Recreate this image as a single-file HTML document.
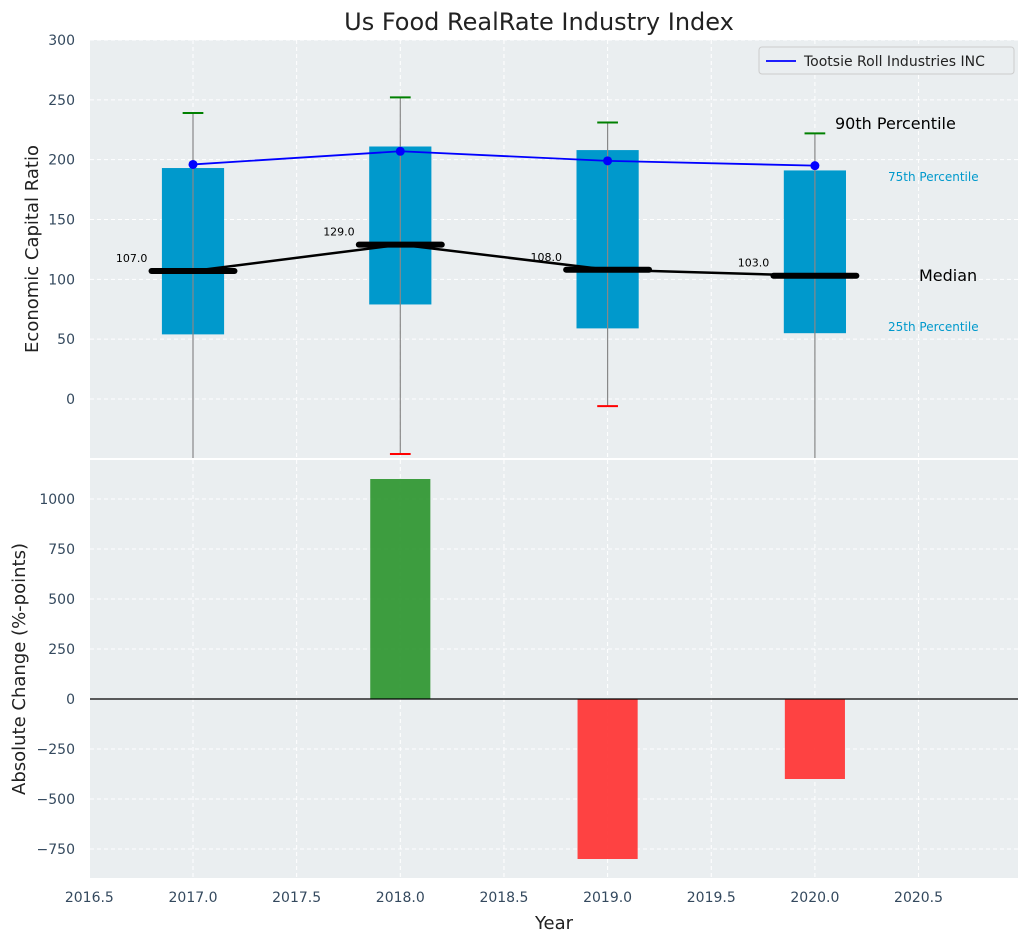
<!DOCTYPE html>
<html><head><meta charset="utf-8"><style>
body{margin:0;background:#fff;font-family:"Liberation Sans","DejaVu Sans",sans-serif;}
svg text{font-family:"DejaVu Sans","Liberation Sans",sans-serif;}
</style></head><body>
<svg id="c" width="1029" height="942" xmlns="http://www.w3.org/2000/svg">
<text x="539" y="30" text-anchor="middle" font-size="24" fill="#222">Us Food RealRate Industry Index</text>
<g id="topPanel"></g>
<g id="botPanel"></g>
</svg>
<script>
const years=[2017,2018,2019,2020];
const q25=[54,79,59,55];
const q75=[193,211,208,191];
const medians=[107,129,108,103];
const p90=[239,252,231,222];
const p10=[-60,-46,-6,-60];
const company=[196,207,199,195];
const changes=[null,1100,-800,-400];
const topTicks=[0,50,100,150,200,250,300];
const botTicks=[-750,-500,-250,0,250,500,750,1000];
const xTicks=[2016.5,2017,2017.5,2018,2018.5,2019,2019.5,2020,2020.5];

const NS='http://www.w3.org/2000/svg';
function mk(p,t,a){const e=document.createElementNS(NS,t);for(const k in a)e.setAttribute(k,a[k]);p.appendChild(e);return e;}
const L=90,R=1018,TC='#34495e';
const X=v=>193+(v-2017)*207.3;
const YT=v=>399-v*1.1967;
const YB=v=>699-v*0.2;
const fmt=v=>String(v).replace('-','\u2212');
const tp=document.getElementById('topPanel'),bot=document.getElementById('botPanel');
let bg=mk(tp,'rect',{x:L,y:40,width:R-L,height:418,fill:'#eaeef0'});


let bg2=mk(bot,'rect',{x:L,y:460,width:R-L,height:418,fill:'#eaeef0'});


xTicks.forEach(t=>{
 mk(tp,'line',{x1:X(t),x2:X(t),y1:40,y2:458,stroke:'#fff','stroke-dasharray':'4,3'});
 mk(bot,'line',{x1:X(t),x2:X(t),y1:460,y2:878,stroke:'#fff','stroke-dasharray':'4,3'});
 const tx=mk(bot,'text',{x:X(t),y:902,'text-anchor':'middle','font-size':14,fill:TC});tx.textContent=t.toFixed(1);
 
 
});
topTicks.forEach(t=>{
 mk(tp,'line',{x1:L,x2:R,y1:YT(t),y2:YT(t),stroke:'#fff','stroke-dasharray':'4,3'});
 const tx=mk(tp,'text',{x:75,y:YT(t)+5,'text-anchor':'end','font-size':14,fill:TC});tx.textContent=fmt(t);
 
 
});
botTicks.forEach(t=>{
 mk(bot,'line',{x1:L,x2:R,y1:YB(t),y2:YB(t),stroke:'#fff','stroke-dasharray':'4,3'});
 const tx=mk(bot,'text',{x:75,y:YB(t)+5,'text-anchor':'end','font-size':14,fill:TC});tx.textContent=fmt(t);
 
 
});
const defs=mk(tp,'defs',{});const cp=mk(defs,'clipPath',{id:'ct'});mk(cp,'rect',{x:L,y:40,width:R-L,height:418});
const g=mk(tp,'g',{'clip-path':'url(#ct)'});
years.forEach((y,i)=>{
 const b=mk(g,'rect',{x:X(y-0.15),y:YT(q75[i]),width:X(y+0.15)-X(y-0.15),height:YT(q25[i])-YT(q75[i]),fill:'#0099cc'});
 
 
 mk(g,'line',{x1:X(y),x2:X(y),y1:YT(p90[i]),y2:YT(p10[i]),stroke:'#888','stroke-width':1.2});
 mk(g,'line',{x1:X(y-0.05),x2:X(y+0.05),y1:YT(p90[i]),y2:YT(p90[i]),stroke:'green','stroke-width':2});
 mk(g,'line',{x1:X(y-0.05),x2:X(y+0.05),y1:YT(p10[i]),y2:YT(p10[i]),stroke:'red','stroke-width':2});
 const m=mk(g,'line',{x1:X(y-0.2),x2:X(y+0.2),y1:YT(medians[i]),y2:YT(medians[i]),stroke:'#000','stroke-width':6,'stroke-linecap':'round'});
 
 
 const t=mk(g,'text',{x:X(y-0.22),y:YT(medians[i])-9,'text-anchor':'end','font-size':11,fill:'#000'});t.textContent=medians[i].toFixed(1);
 
 
});
const ml=mk(g,'polyline',{points:years.map((y,i)=>X(y)+','+YT(medians[i])).join(' '),fill:'none',stroke:'#000','stroke-width':2.5});


const cl=mk(g,'polyline',{points:years.map((y,i)=>X(y)+','+YT(company[i])).join(' '),fill:'none',stroke:'blue','stroke-width':1.8});


years.forEach((y,i)=>{const c=mk(g,'circle',{cx:X(y),cy:YT(company[i]),r:4.5,fill:'blue'});
 
 });
[['90th Percentile',835,129,16,'#000'],['75th Percentile',888,181,12,'#0099cc'],['Median',919,281,16,'#000'],['25th Percentile',888,331,12,'#0099cc']].forEach(a=>{
 const t=mk(tp,'text',{x:a[1],y:a[2],'font-size':a[3],fill:a[4]});t.textContent=a[0];
 
 
});
const lg=mk(tp,'g',{});


mk(lg,'rect',{x:759,y:47,width:255,height:27,rx:3,fill:'#eaeef0',stroke:'#ccc'});
mk(lg,'line',{x1:766,x2:796,y1:61,y2:61,stroke:'blue','stroke-width':1.8});
const lt=mk(lg,'text',{x:804,y:66,'font-size':14,fill:'#222'});lt.textContent='Tootsie Roll Industries INC';
years.forEach((y,i)=>{if(changes[i]==null)return;const v=changes[i];
 const r=mk(bot,'rect',{x:X(y-0.145),y:Math.min(YB(v),YB(0)),width:X(y+0.145)-X(y-0.145),height:Math.abs(YB(v)-YB(0)),fill:v>=0?'#2e9630':'#ff3333','fill-opacity':0.92});
 
 
});
const zl=mk(bot,'line',{x1:L,x2:R,y1:YB(0),y2:YB(0),stroke:'#000','stroke-width':1.2});


const a1=mk(tp,'text',{x:38,y:249,'text-anchor':'middle','font-size':18,fill:'#222',transform:'rotate(-90 38 249)'});a1.textContent='Economic Capital Ratio';


const a2=mk(bot,'text',{x:25,y:669,'text-anchor':'middle','font-size':18,fill:'#222',transform:'rotate(-90 25 669)'});a2.textContent='Absolute Change (%-points)';


const a3=mk(bot,'text',{x:554,y:929,'text-anchor':'middle','font-size':18,fill:'#222'});a3.textContent='Year';


</script>
</body></html>
